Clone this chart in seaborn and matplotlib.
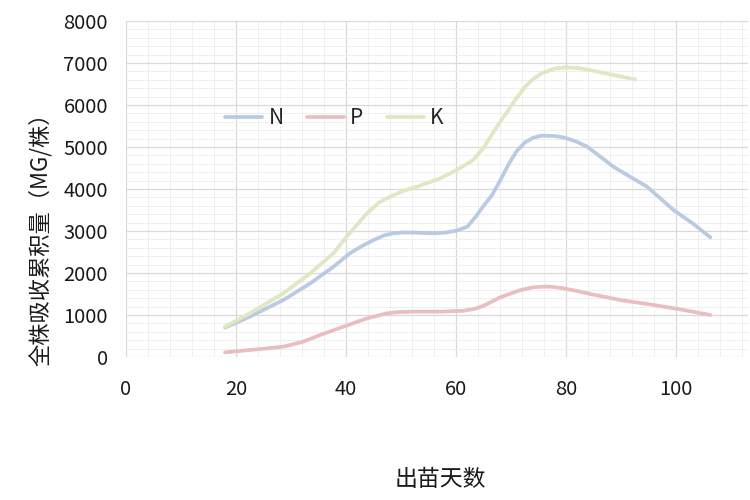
import numpy as np
import pandas as pd
import matplotlib
matplotlib.use("Agg")
import matplotlib.pyplot as plt
from matplotlib.ticker import MultipleLocator
import seaborn as sns

# 数据
n_days = [18, 22.5, 28.6, 33.5, 37.7, 40.7, 43, 45, 47, 48.6, 50.5, 52.8, 55.9, 58, 60.1, 62, 63.5,
          65, 66.5, 68, 69.5, 71, 72.5, 74, 75.6, 77.7, 79, 80.1, 82, 83.8, 86, 88.6,
          91.5, 94.7, 97, 99.5, 103, 106.2]
n_vals = [700, 960, 1357, 1755, 2150, 2470, 2650, 2786, 2900, 2945, 2965, 2960, 2945, 2960, 3010, 3100, 3330,
          3600, 3850, 4200, 4580, 4900, 5110, 5220, 5270, 5262, 5240, 5206, 5120, 5008, 4790, 4530,
          4300, 4055, 3790, 3500, 3180, 2850]

p_days = [18, 22.5, 26, 28.6, 32.2, 35.3, 39.5, 43.8, 47.4, 49.5, 52.2, 57.1, 61.3, 63.5, 65, 68,
          71.6, 74, 75.9, 77.5, 79.5, 82, 84.4, 89.8, 95.9, 100.7, 106.2]
p_vals = [110, 167, 210, 245, 365, 524, 722, 920, 1040, 1070, 1080, 1080, 1100, 1150, 1220, 1420,
          1590, 1660, 1675, 1670, 1635, 1570, 1500, 1357, 1238, 1135, 1000]

k_days = [18, 22.5, 28.6, 33.5, 37.7, 40.1, 43.8, 46, 48, 50.5, 52.9, 57.1, 60.1, 63.1, 65, 66.5, 68,
          69.5, 71, 72.5, 74, 75.6, 78, 80.1, 82, 84.4, 88.6, 92.5]
k_vals = [720, 1040, 1516, 1993, 2470, 2865, 3420, 3680, 3817, 3960, 4055, 4254, 4452, 4690, 4980, 5300, 5600,
          5880, 6170, 6430, 6620, 6760, 6870, 6895, 6880, 6830, 6714, 6610]

series_names = ["N", "P", "K"]
palette = {"N": "#b9cbe3", "P": "#e8bec0", "K": "#dfe7c3"}

df = pd.concat([
    pd.DataFrame({"day": n_days, "val": n_vals, "元素": "N"}),
    pd.DataFrame({"day": p_days, "val": p_vals, "元素": "P"}),
    pd.DataFrame({"day": k_days, "val": k_vals, "元素": "K"}),
], ignore_index=True)

sns.set_style("white")
plt.rcParams['font.family'] = ['Noto Sans CJK SC', 'DejaVu Sans']
plt.rcParams['lines.solid_joinstyle'] = 'round'
plt.rcParams['lines.solid_capstyle'] = 'round'

fig = plt.figure(figsize=(7.5, 5), dpi=100)
ax = fig.add_axes([0.168, 0.286, 0.829, 0.672])

sns.lineplot(data=df, x="day", y="val", hue="元素", hue_order=series_names,
             palette=palette, sort=False, estimator=None, linewidth=2.7, ax=ax)

ax.set_xlim(0, 113)
ax.set_ylim(0, 8000)
ax.xaxis.set_major_locator(MultipleLocator(20))
ax.xaxis.set_minor_locator(MultipleLocator(4))
ax.yaxis.set_major_locator(MultipleLocator(1000))
ax.yaxis.set_minor_locator(MultipleLocator(200))
ax.grid(which="major", color="#d9d9d9", linewidth=0.9)
ax.grid(which="minor", color="#efefef", linewidth=0.7)
ax.set_axisbelow(True)
for s in ax.spines.values():
    s.set_visible(False)
ax.tick_params(which="both", length=0, labelsize=14.5, colors="#1a1a1a")
ax.tick_params(axis="x", pad=16)
ax.tick_params(axis="y", pad=13)

ax.set_xlabel("出苗天数", fontsize=16.5, color="#1a1a1a")
ax.set_ylabel("全株吸收累积量（MG/株）", fontsize=16, color="#1a1a1a")
ax.xaxis.set_label_coords(0.505, -0.33)
ax.yaxis.set_label_coords(-0.119, 0.366)

ax.legend(loc="center", bbox_to_anchor=(0.335, 0.71), ncol=3, frameon=False,
          fontsize=15, handlelength=1.8, handletextpad=0.3, columnspacing=1.1)

fig.savefig("out.png", dpi=100)
